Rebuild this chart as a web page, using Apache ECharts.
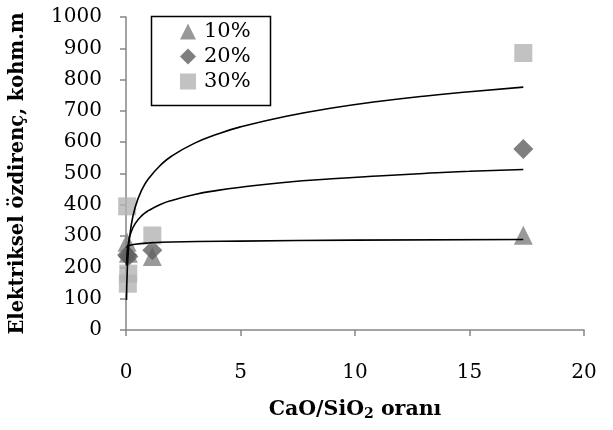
<!DOCTYPE html>
<html>
<head>
<meta charset="utf-8">
<script src="https://cdn.jsdelivr.net/npm/echarts@6/dist/echarts.min.js"></script>
<style>
  html, body { margin: 0; padding: 0; background: #fff; }
  #main { width: 613px; height: 430px; }
</style>
</head>
<body>
<div id="main"></div>
<script>
// measured points, [CaO/SiO2, kohm.m]
var pts10 = [[0.05, 280], [0.1, 245], [1.15, 235], [17.35, 303]];
var pts20 = [[0.05, 240], [0.1, 235], [1.15, 255], [17.35, 578]];
var pts30 = [[0.05, 395], [0.1, 180], [0.08, 148], [1.15, 302], [17.35, 885]];

// trend curves
var trend10 = [[0.022, 263], [0.1, 269], [0.4, 274], [1, 278], [2, 281], [5, 284], [10, 287], [17.35, 289]];
var trend20 = [[0.022, 206], [0.05, 244], [0.1, 276], [0.2, 308], [0.4, 340], [0.7, 366], [1, 382], [1.5, 401],
               [2, 414], [3, 433], [4, 446], [5, 456], [7, 472], [9, 483], [11, 492], [13, 500], [15, 507], [17.35, 513]];
var trend30 = [[0.022, 96], [0.05, 179], [0.1, 250], [0.2, 321], [0.4, 392], [0.7, 449], [1, 485], [1.5, 526],
               [2, 556], [3, 597], [4, 626], [5, 649], [7, 683], [9, 709], [11, 730], [13, 747], [15, 761], [17.35, 776]];

var seriesNames = ['10%', '20%', '30%'];
var xTicks = { min: 0, max: 20, interval: 5 };
var yTicks = { min: 0, max: 1000, interval: 100 };

var serif = 'DejaVu Serif';
var axisGray = '#868686';

var myChart = echarts.init(document.getElementById('main'));
var option = {
    animation: false,
    backgroundColor: '#fff',
    grid: { left: 125, right: 29, top: 17, bottom: 100 },
    // legend frame
    graphic: [{
        type: 'rect', left: 149, top: 14, z: 100,
        shape: { width: 119, height: 89 },
        style: { fill: 'none', stroke: '#000', lineWidth: 1.5 }
    }],
    legend: {
        data: [
            { name: seriesNames[0], icon: 'triangle' },
            { name: seriesNames[1], icon: 'diamond' },
            { name: seriesNames[2], icon: 'rect' }
        ],
        orient: 'vertical',
        left: 149,
        top: 14,
        padding: [7, 16, 4, 31],
        itemGap: 4,
        itemWidth: 16,
        itemHeight: 16,
        textStyle: { fontFamily: serif, fontSize: 21, color: '#000', width: 50, overflow: 'none',
                     padding: [0, 0, 0, 3] }
    },
    xAxis: {
        type: 'value',
        min: xTicks.min, max: xTicks.max, interval: xTicks.interval,
        name: '{a|CaO/SiO}{s|2}{a| oranı}',
        nameLocation: 'middle',
        nameGap: 68,
        nameTextStyle: {
            rich: {
                a: { fontFamily: serif, fontSize: 20.5, fontWeight: 'bold', color: '#000' },
                s: { fontFamily: serif, fontSize: 14, fontWeight: 'bold', color: '#000', padding: [9, 0, 0, 0] }
            }
        },
        axisLine: { lineStyle: { color: axisGray, width: 1.5 } },
        axisTick: { show: true, length: 6, lineStyle: { color: axisGray, width: 1.5 } },
        axisLabel: { fontFamily: serif, fontSize: 20, color: '#000', margin: 33 },
        splitLine: { show: false }
    },
    yAxis: {
        type: 'value',
        min: yTicks.min, max: yTicks.max, interval: yTicks.interval,
        name: 'Elektriksel özdirenç, kohm.m',
        nameLocation: 'middle',
        nameRotate: 90,
        nameGap: 98,
        nameTextStyle: { fontFamily: serif, fontSize: 19.5, fontWeight: 'bold', color: '#000' },
        axisLine: { show: true, lineStyle: { color: axisGray, width: 1.5 } },
        axisTick: { show: true, length: 6, lineStyle: { color: axisGray, width: 1.5 } },
        axisLabel: { fontFamily: serif, fontSize: 20, color: '#000', margin: 24,
                     formatter: function (v) { return String(v); } },
        splitLine: { show: false }
    },
    series: [
        { name: seriesNames[0], type: 'scatter', symbol: 'triangle', symbolSize: 19,
          itemStyle: { color: '#808080' }, data: pts10 },
        { name: seriesNames[1], type: 'scatter', symbol: 'diamond', symbolSize: 20,
          itemStyle: { color: '#5f5f5f' }, data: pts20 },
        { name: seriesNames[2], type: 'scatter', symbol: 'rect', symbolSize: 18,
          itemStyle: { color: '#b3b3b3' }, data: pts30 },
        { name: 'trend10', type: 'line', data: trend10, smooth: true, showSymbol: false, symbol: 'none',
          lineStyle: { color: '#000', width: 1.6 }, z: 5 },
        { name: 'trend20', type: 'line', data: trend20, smooth: true, showSymbol: false, symbol: 'none',
          lineStyle: { color: '#000', width: 1.6 }, z: 5 },
        { name: 'trend30', type: 'line', data: trend30, smooth: true, showSymbol: false, symbol: 'none',
          lineStyle: { color: '#000', width: 1.6 }, z: 5 }
    ]
};
myChart.setOption(option);
</script>
</body>
</html>
